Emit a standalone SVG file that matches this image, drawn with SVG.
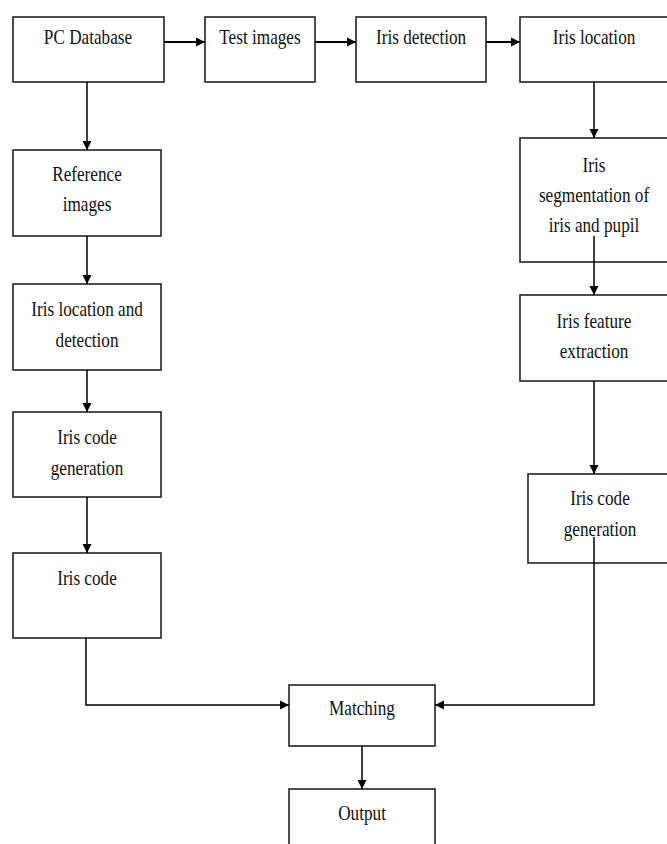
<svg xmlns="http://www.w3.org/2000/svg" width="667" height="844" viewBox="0 0 667 844">
<defs>
<marker id="ah" markerWidth="11" markerHeight="11" refX="9" refY="5" orient="auto" markerUnits="userSpaceOnUse">
<path d="M0,0.5 L9,5 L0,9.5 Z" fill="#000"/>
</marker>
<style>
.box{fill:#fff;stroke:#222;stroke-width:1.6}
.lbl{font-family:"Liberation Serif","DejaVu Serif",serif;font-size:20px;fill:#111;text-anchor:middle;transform-box:fill-box;transform-origin:center;transform:scale(0.86,1)}
.con{fill:none;stroke:#000;stroke-width:1.5}
.top{stroke-width:2}
</style>
</defs>
<rect width="667" height="844" fill="#fff"/>
<g id="n-pcdb"><rect class="box" x="13" y="17" width="151" height="65"/><text class="lbl" x="88" y="44">PC Database</text></g>
<g id="n-test"><rect class="box" x="205" y="17" width="110" height="65"/><text class="lbl" x="260" y="44">Test images</text></g>
<g id="n-irisdet"><rect class="box" x="356" y="17" width="130" height="65"/><text class="lbl" x="421" y="44">Iris detection</text></g>
<g id="n-irisloc"><rect class="box" x="520" y="17" width="148" height="65"/><text class="lbl" x="594" y="44">Iris location</text></g>
<g id="n-ref"><rect class="box" x="13" y="150" width="148" height="86"/><text class="lbl" x="87" y="181">Reference</text><text class="lbl" x="87" y="211">images</text></g>
<g id="n-locdet"><rect class="box" x="13" y="284" width="148" height="86"/><text class="lbl" x="87" y="316">Iris location and</text><text class="lbl" x="87" y="347">detection</text></g>
<g id="n-codegen-l"><rect class="box" x="13" y="412" width="148" height="85"/><text class="lbl" x="87" y="444">Iris code</text><text class="lbl" x="87" y="475">generation</text></g>
<g id="n-code"><rect class="box" x="13" y="553" width="148" height="85"/><text class="lbl" x="87" y="585">Iris code</text></g>
<g id="n-seg"><rect class="box" x="520" y="138" width="148" height="124"/><text class="lbl" x="594" y="172">Iris</text><text class="lbl" x="594" y="202">segmentation  of</text><text class="lbl" x="594" y="232">iris and pupil</text></g>
<g id="n-feat"><rect class="box" x="520" y="295" width="148" height="86"/><text class="lbl" x="594" y="328">Iris feature</text><text class="lbl" x="594" y="358">extraction</text></g>
<g id="n-codegen-r"><rect class="box" x="528" y="474" width="140" height="89"/><text class="lbl" x="600" y="505">Iris code</text><text class="lbl" x="600" y="536">generation</text></g>
<g id="n-match"><rect class="box" x="289" y="685" width="146" height="61"/><text class="lbl" x="362" y="715">Matching</text></g>
<g id="n-out"><rect class="box" x="289" y="789" width="146" height="70"/><text class="lbl" x="362" y="820">Output</text></g>
<g id="connectors">
<path class="con top" d="M164,42 H205" marker-end="url(#ah)"/>
<path class="con top" d="M315,42 H356" marker-end="url(#ah)"/>
<path class="con top" d="M486,42 H520" marker-end="url(#ah)"/>
<path class="con" d="M87,82 V150" marker-end="url(#ah)"/>
<path class="con" d="M87,236 V284" marker-end="url(#ah)"/>
<path class="con" d="M87,370 V412" marker-end="url(#ah)"/>
<path class="con" d="M87,497 V553" marker-end="url(#ah)"/>
<path class="con" d="M86,638 V705 H289" marker-end="url(#ah)"/>
<path class="con" d="M594,82 V138" marker-end="url(#ah)"/>
<path class="con" d="M594,236 V295" marker-end="url(#ah)"/>
<path class="con" d="M594,381 V474" marker-end="url(#ah)"/>
<path class="con" d="M594,537 V705 H435" marker-end="url(#ah)"/>
<path class="con" d="M362,746 V789" marker-end="url(#ah)"/>
</g>
</svg>
